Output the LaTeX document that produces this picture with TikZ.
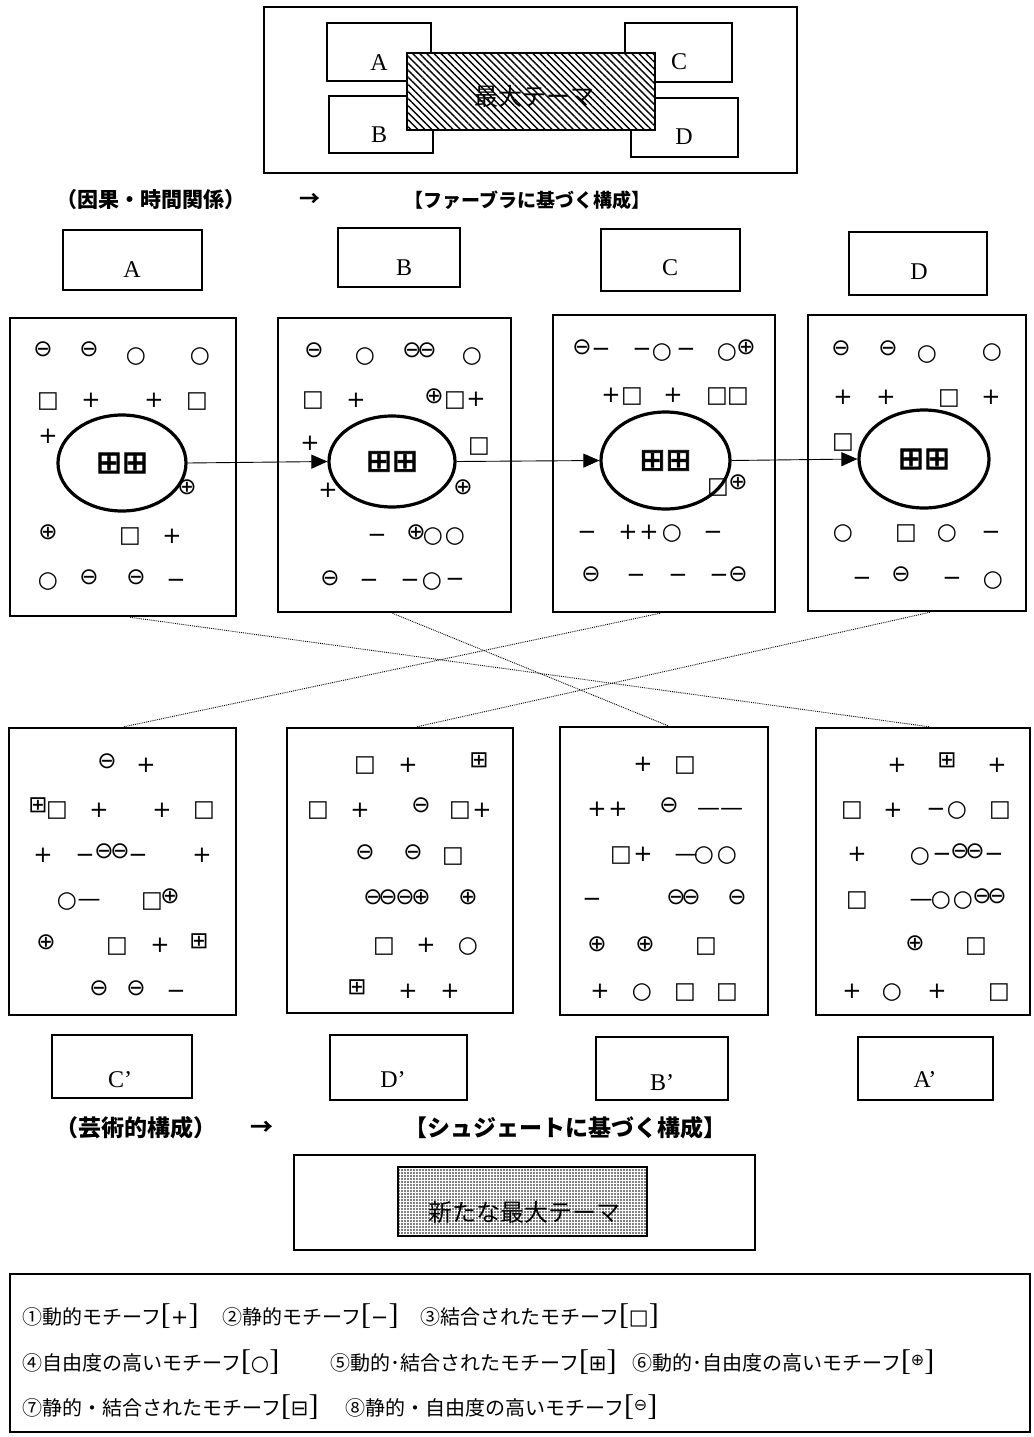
\documentclass[tikz,border=0pt]{standalone}
\usepackage{fontspec}
\setmainfont{Liberation Serif}
\newfontfamily\jp{Noto Sans CJK JP}
\newfontfamily\sym{DejaVu Sans}
\newfontfamily\symb[FakeBold=2.5]{DejaVu Sans}
\usetikzlibrary{arrows.meta,shapes.geometric,patterns.meta}
\newcommand\motbr[1]{{\rmfamily\fontsize{30}{30}\selectfont[}{\sym\fontsize{21}{21}\selectfont#1}{\rmfamily\fontsize{30}{30}\selectfont]}}
\newcommand\motup[1]{\raisebox{5pt}{\sym\fontsize{16}{16}\selectfont#1}}
\tikzset{
  frame/.style={draw,line width=2pt,inner sep=0pt},
  panel/.style={draw,line width=2.5pt,inner sep=0pt},
  lett/.style={font=\fontsize{24}{24}\selectfont,inner sep=0pt},
  mot/.style={font=\sym\fontsize{23}{23}\selectfont,inner sep=0pt,text height=0.7em,text depth=0.1em},
  core/.style={draw,ellipse,line width=3.2pt,inner sep=0pt,font=\symb\fontsize{31}{31}\selectfont},
  flow/.style={-{Triangle[length=16pt,width=14pt]},line width=0.9pt},
  cross/.style={densely dotted,line width=0.9pt},
  head/.style={font=\jp\bfseries\fontsize{#1}{#1}\selectfont,inner sep=0pt},
  legend/.style={font=\jp\fontsize{20}{20}\selectfont,inner sep=0pt,anchor=west},
}
\begin{document}
\begin{tikzpicture}[x=1pt,y=-1pt]
  \useasboundingbox (0,0) rectangle (1033,1437);
  \fill[white] (0,0) rectangle (1033,1437);
  % max theme (fabula)
  \node[frame,minimum width=533pt,minimum height=166pt] (top) at (530.5,90) {};
  \node[frame,minimum width=104pt,minimum height=58pt] (ta) at (379,52) {};
  \node[frame,minimum width=104pt,minimum height=57pt] (tb) at (381,124.5) {};
  \node[frame,minimum width=107pt,minimum height=59pt] (tc) at (678.5,52.5) {};
  \node[frame,minimum width=107pt,minimum height=59pt] (td) at (684.5,127.5) {};
  \node[frame,fill=white,postaction={pattern={Lines[angle=-45,distance=5pt,line width=1.4pt]}},minimum width=248pt,minimum height=77pt] (theme) at (531,91.5) {};
  \node[lett] (ta-t) at (379,63) {A};
  \node[lett] (tb-t) at (379,135) {B};
  \node[lett] (tc-t) at (679,62) {C};
  \node[lett] (td-t) at (684,137) {D};
  \node[font=\jp\fontsize{24}{24}\selectfont,inner sep=0pt] (theme-t) at (534,96) {最大テーマ};
  \node[head=21,anchor=west] (h1) at (56,200) {（因果・時間関係）};
  \node[head=21] (h1a) at (310,200) {→};
  \node[head=19,anchor=west] (h1b) at (404,200) {【ファーブラに基づく構成】};
  % label boxes
  \node[frame,minimum width=139pt,minimum height=60pt] (la) at (132.5,260) {};
  \node[frame,minimum width=122pt,minimum height=59pt] (lb) at (399,257.5) {};
  \node[frame,minimum width=139pt,minimum height=62pt] (lc) at (670.5,260) {};
  \node[frame,minimum width=138pt,minimum height=63pt] (ld) at (918,263.5) {};
  \node[lett] (la-t) at (132,270) {A};
  \node[lett] (lb-t) at (404,268) {B};
  \node[lett] (lc-t) at (670,268) {C};
  \node[lett] (ld-t) at (919,272) {D};
  % upper panels
  \node[panel,minimum width=226pt,minimum height=298pt] (p1) at (123,467) {};
  \node[panel,minimum width=233pt,minimum height=294pt] (p2) at (394.5,465) {};
  \node[panel,minimum width=222pt,minimum height=297pt] (p3) at (664,463.5) {};
  \node[panel,minimum width=218pt,minimum height=296pt] (p4) at (917,463) {};
  \node[core,minimum width=128pt,minimum height=96pt] (e1) at (122,463) {⊞⊞};
  \node[core,minimum width=126pt,minimum height=91pt] (e2) at (392,461.5) {⊞⊞};
  \node[core,minimum width=129pt,minimum height=97pt] (e3) at (665.5,460.5) {⊞⊞};
  \node[core,minimum width=130pt,minimum height=98pt] (e4) at (924,459) {⊞⊞};
  \draw[flow] (e1.east) -- (e2.west);
  \draw[flow] (e2.east) -- (e3.west);
  \draw[flow] (e3.east) -- (e4.west);
  \foreach \x/\y/\m [count=\i] in {43/353/⊖,89/353/⊖,136/359/○,200/359/○,48/404/□,91/404/+,154/404/+,197/404/□,48/440/+,187/491/⊕,48/536/⊕,130/539/□,172/540/+,48/584/○,89/581/⊖,136/581/⊖,176/584/−}
    \node[mot] (pa\i) at (\x,\y) {\m};
  \foreach \x/\y/\m [count=\i] in {314/354/⊖,365/359/○,412/354/⊖,427/354/⊖,472/359/○,313/403/□,356/404/+,434/400/⊕,455/403/□,476/403/+,310/447/+,479/449/□,328/494/+,463/491/⊕,377/539/−,416/536/⊕,433/539/○,455/539/○,330/582/⊖,369/584/−,410/584/−,432/584/○,455/583/−}
    \node[mot] (pb\i) at (\x,\y) {\m};
  \foreach \x/\y/\m [count=\i] in {582/351/⊖,601/353/−,642/353/−,662/355/○,686/353/−,727/355/○,746/351/⊕,611/399/+,632/399/□,673/399/+,717/399/□,738/399/□,718/490/□,738/486/⊕,587/536/−,628/536/+,649/536/+,672/536/○,713/536/−,591/578/⊖,636/579/−,678/579/−,719/579/−,738/578/⊖}
    \node[mot] (pc\i) at (\x,\y) {\m};
  \foreach \x/\y/\m [count=\i] in {841/352/⊖,888/352/⊖,927/357/○,992/355/○,843/401/+,886/401/+,949/401/□,991/401/+,843/445/□,843/536/○,906/536/□,947/536/○,991/536/−,862/582/−,901/578/⊖,952/582/−,993/583/○}
    \node[mot] (pd\i) at (\x,\y) {\m};
  % lower panels
  \node[panel,minimum width=227pt,minimum height=287pt] (q1) at (122.5,871.5) {};
  \node[panel,minimum width=226pt,minimum height=285pt] (q2) at (400,870.5) {};
  \node[panel,minimum width=208pt,minimum height=288pt] (q3) at (664,871) {};
  \node[panel,minimum width=214pt,minimum height=287pt] (q4) at (923,871.5) {};
  \draw[cross] ([xshift=7pt]p1.south) -- ([xshift=6pt]q4.north);
  \draw[cross] ([xshift=-2pt]p2.south) -- ([xshift=4pt]q3.north);
  \draw[cross] ([xshift=-4pt]p3.south) -- ([xshift=1.5pt]q1.north);
  \draw[cross] ([xshift=13pt]p4.south) -- ([xshift=17pt]q2.north);
  \foreach \x/\y/\m [count=\i] in {107/765/⊖,146/769/+,38/809/⊞,57/813/□,99/814/+,162/814/+,204/813/□,43/859/+,85/859/−,104/855/⊖,120/855/⊖,138/859/−,202/859/+,67/904/○,89/903/—,152/904/□,170/900/⊕,46/946/⊕,117/949/□,160/949/+,199/945/⊞,99/992/⊖,136/992/⊖,176/995/−}
    \node[mot] (qc\i) at (\x,\y) {\m};
  \foreach \x/\y/\m [count=\i] in {365/768/□,408/769/+,479/764/⊞,318/813/□,360/814/+,421/809/⊖,460/813/□,482/814/+,365/856/⊖,413/856/⊖,453/859/□,373/901/⊖,388/901/⊖,405/901/⊖,421/901/⊕,468/901/⊕,384/949/□,426/949/+,468/949/○,357/991/⊞,408/995/+,450/995/+}
    \node[mot] (qd\i) at (\x,\y) {\m};
  \foreach \x/\y/\m [count=\i] in {643/768/+,685/768/□,597/813/+,618/813/+,669/809/⊖,720/812/——,621/858/□,643/858/+,686/858/—,704/858/○,727/858/○,592/903/−,676/901/⊖,691/901/⊖,737/901/⊖,597/948/⊕,645/948/⊕,706/949/□,600/995/+,642/995/○,685/995/□,727/995/□}
    \node[mot] (qb\i) at (\x,\y) {\m};
  \foreach \x/\y/\m [count=\i] in {897/769/+,947/764/⊞,997/769/+,852/813/□,893/814/+,936/813/−,957/813/○,1000/813/□,857/858/+,920/859/○,942/858/−,960/855/⊖,975/855/⊖,994/858/−,857/903/□,921/903/—,941/903/○,963/903/○,982/900/⊖,997/900/⊖,915/947/⊕,976/949/□,852/995/+,892/995/○,937/995/+,999/995/□}
    \node[mot] (qa\i) at (\x,\y) {\m};
  \node[frame,minimum width=140pt,minimum height=63pt] (lc2) at (122,1066.5) {};
  \node[frame,minimum width=137pt,minimum height=65pt] (ld2) at (398.5,1067.5) {};
  \node[frame,minimum width=132pt,minimum height=63pt] (lb2) at (662,1068.5) {};
  \node[frame,minimum width=135pt,minimum height=63pt] (la2) at (925.5,1068.5) {};
  \node[lett] (lc2-t) at (120,1080) {C’};
  \node[lett] (ld2-t) at (393,1080) {D’};
  \node[lett] (lb2-t) at (662,1083) {B’};
  \node[lett] (la2-t) at (925,1080) {A’};
  % new max theme (sjuzhet)
  \node[head=23,anchor=west] (h2) at (55,1128) {（芸術的構成）};
  \node[head=23] (h2a) at (262,1128) {→};
  \node[head=23,anchor=west] (h2b) at (404,1128) {【シュジェートに基づく構成】};
  \node[frame,minimum width=461pt,minimum height=95pt] (bot) at (524.5,1202.5) {};
  \node[draw,line width=1.8pt,inner sep=0pt,fill=white,postaction={pattern={Dots[distance=3pt,radius=0.9pt]}},minimum width=249pt,minimum height=69pt] (newtheme) at (522.5,1201.5) {};
  \node[font=\jp\fontsize{24}{24}\selectfont,inner sep=0pt] (newtheme-t) at (524,1212) {新たな最大テーマ};
  % legend
  \node[draw,line width=2.5pt,minimum width=1020pt,minimum height=158pt] (key) at (520,1353) {};
  \node[legend] (k1) at (22,1316) {①動的モチーフ\motbr{+}};
  \node[legend] (k2) at (222,1316) {②静的モチーフ\motbr{−}};
  \node[legend] (k3) at (420,1316) {③結合されたモチーフ\motbr{□}};
  \node[legend] (k4) at (22,1362) {④自由度の高いモチーフ\motbr{○}};
  \node[legend] (k5) at (330,1362) {⑤動的･結合されたモチーフ\motbr{⊞}};
  \node[legend] (k6) at (632,1362) {⑥動的･自由度の高いモチーフ\motbr{\motup{⊕}}};
  \node[legend] (k7) at (22,1407) {⑦静的・結合されたモチーフ\motbr{⊟}};
  \node[legend] (k8) at (345,1407) {⑧静的・自由度の高いモチーフ\motbr{\motup{⊖}}};
\end{tikzpicture}
\end{document}
